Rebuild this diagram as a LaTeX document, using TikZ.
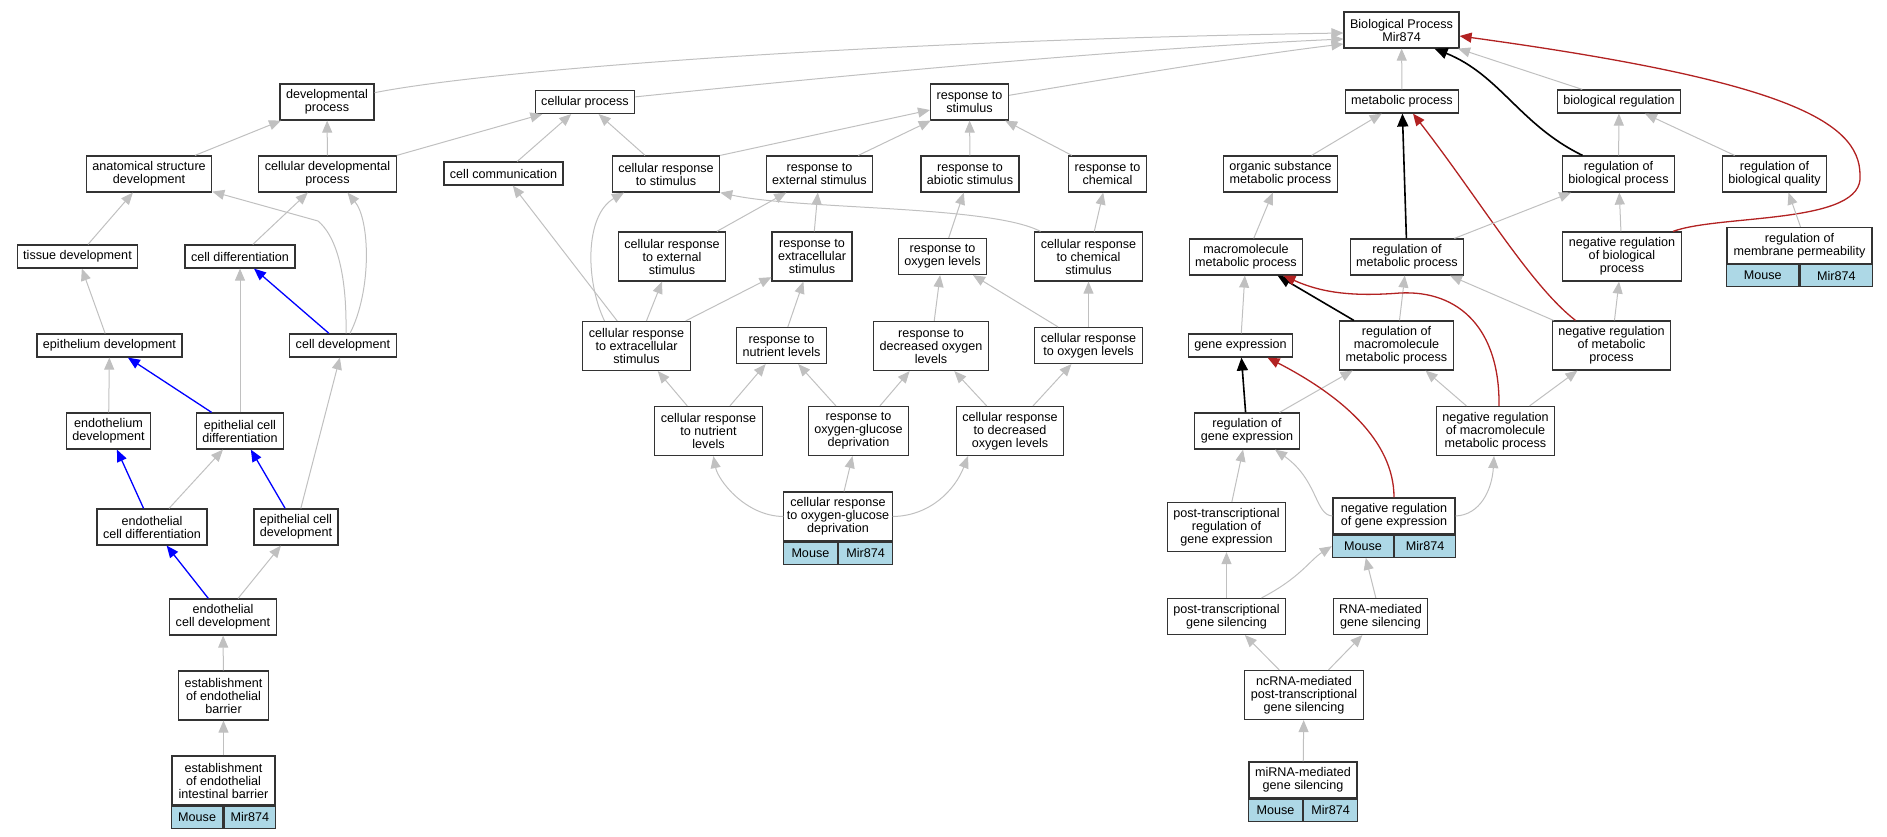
\documentclass[tikz,border=0pt]{standalone}
\usepackage{fontspec}
\setmainfont{Liberation Sans}
\usetikzlibrary{arrows.meta}

\definecolor{firebrick}{RGB}{178,34,34}
\definecolor{lightblue}{RGB}{173,216,230}
\definecolor{edgegray}{RGB}{192,192,192}

\tikzset{
  term/.style={draw=black!80, line width=1.2pt, fill=white, align=center,
    font=\fontsize{12.6}{13}\selectfont, inner xsep=6pt, inner ysep=1pt},
  one/.style={term, minimum height=23pt},
  two/.style={term, minimum height=36pt},
  three/.style={term, minimum height=49pt},
  tagbox/.style={draw=black!80, line width=1.2pt, fill=lightblue,
    font=\fontsize{12.6}{13}\selectfont, minimum height=22pt, inner sep=0pt},
  isa/.style={draw=edgegray, line width=1pt, -{Triangle[length=12pt,width=10pt]}},
  partof/.style={draw=blue, line width=1.3pt, -{Triangle[length=12pt,width=10pt]}},
  regulates/.style={draw=black, line width=1.6pt, -{Triangle[length=13pt,width=11pt]}},
  negregulates/.style={draw=firebrick, line width=1.3pt, -{Triangle[length=12pt,width=10pt]}}
}

\newcommand\mirtag[2]{
  \node[tagbox, minimum width=#2, anchor=north east] (#1-sp) at (#1.south) {Mouse};
  \node[tagbox, minimum width=#2, anchor=north west] (#1-id) at (#1.south) {Mir874};
}

\begin{document}
\begin{tikzpicture}[x=1pt, y=-1pt]

  \useasboundingbox (0,0) rectangle (1887,837);

  \draw (1401.5,30) node[two] (bp) {Biological Process\\Mir874};

  \draw (327,102) node[two] (dev) {developmental\\process};
  \draw (149,174) node[two] (asd) {anatomical structure\\development};
  \draw (327.5,174) node[two] (cdp) {cellular developmental\\process};
  \draw (77.5,256.5) node[one] (tis) {tissue development};
  \draw (240,256.5) node[one] (cdif) {cell differentiation};
  \draw (109.5,345.5) node[one] (epd) {epithelium development};
  \draw (343,345.5) node[one] (cdev) {cell development};
  \draw (108.5,431) node[two] (endd) {endothelium\\development};
  \draw (240,431) node[two] (ecdif) {epithelial cell\\differentiation};
  \draw (152,527) node[two] (ndcdif) {endothelial\\cell differentiation};
  \draw (296,527) node[two] (ecdev) {epithelial cell\\development};
  \draw (223,617) node[two] (ndcdev) {endothelial\\cell development};
  \draw (223.5,695.5) node[three] (eeb) {establishment\\of endothelial\\barrier};
  \draw (223.5,780.5) node[three, minimum width=103pt, inner xsep=3pt] (eeib) {establishment\\of endothelial\\intestinal barrier};
  \mirtag{eeib}{51.5pt}

  \draw (585,102) node[one] (cp) {cellular process};
  \draw (503.5,173.5) node[one] (ccom) {cell communication};
  \draw (666,174) node[two] (crs) {cellular response\\to stimulus};
  \draw (819.5,174) node[two] (rext) {response to\\external stimulus};
  \draw (672,256.5) node[three] (crext) {cellular response\\to external\\stimulus};
  \draw (812,256.5) node[three] (rxc) {response to\\extracellular\\stimulus};
  \draw (636.5,346) node[three] (crxc) {cellular response\\to extracellular\\stimulus};
  \draw (781.5,345.5) node[two] (rnut) {response to\\nutrient levels};
  \draw (708.5,431) node[three] (crnut) {cellular response\\to nutrient\\levels};
  \draw (858.5,431) node[three] (rogd) {response to\\oxygen-glucose\\deprivation};
  \draw (969.5,102) node[two] (rs) {response to\\stimulus};
  \draw (970,174) node[two] (rabio) {response to\\abiotic stimulus};
  \draw (1107.5,174) node[two] (rchem) {response to\\chemical};
  \draw (942.5,256.5) node[two] (rox) {response to\\oxygen levels};
  \draw (1088.5,256.5) node[three] (crchem) {cellular response\\to chemical\\stimulus};
  \draw (931,346) node[three] (rdox) {response to\\decreased oxygen\\levels};
  \draw (1088.5,345.5) node[two] (crox) {cellular response\\to oxygen levels};
  \draw (1010,431) node[three] (crdox) {cellular response\\to decreased\\oxygen levels};
  \draw (838,516.5) node[three, minimum width=108pt, inner xsep=3pt] (crogd) {cellular response\\to oxygen-glucose\\deprivation};
  \mirtag{crogd}{54pt}

  \draw (1402,101.5) node[one] (mp) {metabolic process};
  \draw (1280.5,174) node[two] (osmp) {organic substance\\metabolic process};
  \draw (1246,257) node[two] (mmp) {macromolecule\\metabolic process};
  \draw (1407,257) node[two] (rmet) {regulation of\\metabolic process};
  \draw (1240.5,345.5) node[one] (ge) {gene expression};
  \draw (1396.5,345.5) node[three] (rmmp) {regulation of\\macromolecule\\metabolic process};
  \draw (1619,101.5) node[one] (breg) {biological regulation};
  \draw (1618.5,174) node[two] (rbp) {regulation of\\biological process};
  \draw (1774.5,174) node[two] (rbq) {regulation of\\biological quality};
  \draw (1622,256.5) node[three] (nrbp) {negative regulation\\of biological\\process};
  \draw (1799.5,245.5) node[two, minimum width=145pt, inner xsep=3pt] (rmper) {regulation of\\membrane permeability};
  \mirtag{rmper}{72.5pt}
  \draw (1611.5,345.5) node[three] (nrmp) {negative regulation\\of metabolic\\process};
  \draw (1247,431) node[two] (rge) {regulation of\\gene expression};
  \draw (1495.5,431) node[three] (nrmmp) {negative regulation\\of macromolecule\\metabolic process};
  \draw (1226.5,527) node[three] (ptrge) {post-transcriptional\\regulation of\\gene expression};
  \draw (1394,516) node[two, minimum width=122pt, inner xsep=3pt] (nrge) {negative regulation\\of gene expression};
  \mirtag{nrge}{61pt}
  \draw (1226.5,616.5) node[two] (ptgs) {post-transcriptional\\gene silencing};
  \draw (1380.5,616.5) node[two] (rnags) {RNA-mediated\\gene silencing};
  \draw (1304,695) node[three] (ncrna) {ncRNA-mediated\\post-transcriptional\\gene silencing};
  \draw (1303,780) node[two, minimum width=108pt, inner xsep=3pt] (mirna) {miRNA-mediated\\gene silencing};
  \mirtag{mirna}{54pt}

  \draw[isa] (dev) .. controls (500,68) and (900,40) .. ([yshift=-3pt]bp.west);
  \draw[isa] (cp) .. controls (800,80) and (1100,50) .. ([yshift=-9pt]bp.west);
  \draw[isa] (rs) .. controls (1100,80) and (1250,55) .. ([yshift=-14pt]bp.west);

  \draw[isa] (asd) -- (dev);
  \draw[isa] (cdp) -- (dev);
  \draw[isa] (cdp.north east) -- (cp);
  \draw[isa] (tis) -- (asd);
  \draw[isa] (cdif) -- (cdp);
  \draw[isa] ([xshift=3pt]cdev.north) .. controls (347,270) and (335,235) .. (318,221) -- (asd);
  \draw[isa] ([xshift=7pt]cdev.north) .. controls (372,290) and (370,220) .. ([xshift=20pt]cdp.south);
  \draw[partof] (cdev) -- (cdif);
  \draw[isa] (epd) -- (tis);
  \draw[partof] (ecdif) -- (epd);
  \draw[isa] (ecdif) -- (cdif);
  \draw[isa] (ecdev) -- (cdev);
  \draw[isa] (endd) -- (epd);
  \draw[partof] (ndcdif) -- (endd);
  \draw[isa] (ndcdif) -- (ecdif);
  \draw[partof] (ecdev) -- (ecdif);
  \draw[partof] (ndcdev) -- (ndcdif);
  \draw[isa] (ndcdev) -- (ecdev);
  \draw[isa] (eeb) -- (ndcdev);
  \draw[isa] (eeib) -- (eeb);

  \draw[isa] (ccom) -- (cp);
  \draw[isa] (crs) -- (cp);
  \draw[isa] (crs.north east) -- ([yshift=-8pt]rs.west);
  \draw[isa] (rext) -- (rs);
  \draw[isa] (rabio) -- (rs);
  \draw[isa] (rchem) -- (rs);
  \draw[isa] (crext) -- (rext);
  \draw[isa] (rxc) -- (rext);
  \draw[isa] ([xshift=-48pt]crchem.north) .. controls (990,205) and (800,210) .. (crs.south east);
  \draw[isa] (crchem) -- (rchem);
  \draw[isa] (rox) -- (rabio);
  \draw[isa] (crxc) -- (ccom);
  \draw[isa] ([xshift=-32pt]crxc.north) .. controls (585,280) and (585,215) .. ([xshift=-42pt]crs.south);
  \draw[isa] (crxc) -- (crext);
  \draw[isa] (crxc) -- (rxc);
  \draw[isa] (rnut) -- (rxc);
  \draw[isa] (rdox) -- (rox);
  \draw[isa] (crox) -- (rox);
  \draw[isa] (crox) -- (crchem);
  \draw[isa] (crnut) -- (crxc);
  \draw[isa] (crnut) -- (rnut);
  \draw[isa] (rogd) -- (rnut);
  \draw[isa] (rogd) -- (rdox);
  \draw[isa] (crdox) -- (rdox);
  \draw[isa] (crdox) -- (crox);
  \draw[isa] (crogd.west) .. controls (745,516) and (718,480) .. (crnut);
  \draw[isa] (crogd) -- (rogd);
  \draw[isa] (crogd.east) .. controls (930,516) and (955,490) .. ([xshift=-42pt]crdox.south);

  \draw[isa] (mp) -- (bp);
  \draw[isa] (breg) -- (bp);
  \draw[regulates] ([xshift=-36pt]rbp.north) .. controls (1520,125) and (1500,75) .. ([xshift=33pt]bp.south);
  \draw[negregulates] ([xshift=51pt]nrbp.north) .. controls (1720,214) and (1865,225) .. (1860,175)
    .. controls (1860,120) and (1780,80) .. ([yshift=-6pt]bp.east);
  \draw[isa] (osmp) -- (mp);
  \draw[regulates] (rmet) -- (mp);
  \draw[negregulates] ([xshift=-36pt]nrmp.north) .. controls (1530,285) and (1480,200) .. ([xshift=11pt]mp.south);
  \draw[isa] (rbp) -- (breg);
  \draw[isa] (rbq) -- (breg);
  \draw[isa] (mmp) -- (osmp);
  \draw[isa] (rmet) -- (rbp);
  \draw[isa] (nrbp) -- (rbp);
  \draw[isa] ([xshift=1pt]rmper.north) -- ([xshift=14pt]rbq.south);
  \draw[isa] (ge) -- (mmp);
  \draw[regulates] (rmmp) -- (mmp);
  \draw[isa] (rmmp) -- (rmet);
  \draw[isa] (nrmp) -- (rmet);
  \draw[isa] (nrmp) -- (nrbp);
  \draw[negregulates] ([xshift=3.5pt]nrmmp.north) .. controls (1500,330) and (1460,290) .. (1400,293)
    .. controls (1350,297) and (1320,292) .. ([xshift=-20pt]mmp.south east);
  \draw[isa] (nrmmp) -- (rmmp);
  \draw[isa] (nrmmp) -- (nrmp);
  \draw[regulates] (rge) -- (ge);
  \draw[isa] (rge) -- (rmmp);
  \draw[negregulates] (nrge.north) .. controls (1394,440) and (1340,395) .. ([xshift=27pt]ge.south);
  \draw[isa] (nrge.west) .. controls (1315,515) and (1318,480) .. ([xshift=28pt]rge.south);
  \draw[isa] (nrge.east) .. controls (1480,515) and (1492,490) .. (nrmmp);
  \draw[isa] (ptrge) -- (rge);
  \draw[isa] (ptgs) -- (ptrge);
  \draw[isa] ([xshift=35pt]ptgs.north) .. controls (1300,578) and (1310,560) .. (nrge-sp.west);
  \draw[isa] (rnags) -- (nrge-sp);
  \draw[isa] (ncrna) -- (ptgs);
  \draw[isa] (ncrna) -- (rnags);
  \draw[isa] (mirna) -- (ncrna);

\end{tikzpicture}
\end{document}
